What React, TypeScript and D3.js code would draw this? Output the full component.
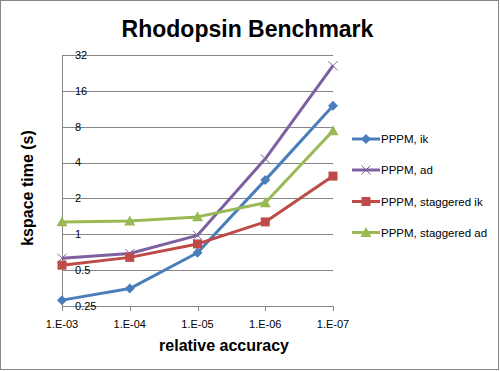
import React from 'react'
import * as d3 from 'd3'

const categories = ['1.E-03', '1.E-04', '1.E-05', '1.E-06', '1.E-07']
const yTicks = [0.25, 0.5, 1, 2, 4, 8, 16, 32]

const ikValues = [0.28, 0.35, 0.7, 2.85, 12]
const adValues = [0.63, 0.69, 0.98, 4.3, 26]
const staggeredIkValues = [0.55, 0.64, 0.83, 1.27, 3.08]
const staggeredAdValues = [1.27, 1.29, 1.4, 1.84, 7.4]

const seriesNames = ['PPPM, ik', 'PPPM, ad', 'PPPM, staggered ik', 'PPPM, staggered ad']
const seriesColors = ['#4A7EBB', '#7D60A0', '#BE4B48', '#98B954']
const seriesMarkers = ['diamond', 'cross', 'square', 'triangle']

const FONT = 'Arial, "Liberation Sans", sans-serif'
const GRID = '#868686'

const W = 500
const H = 371
const plot = { left: 62, right: 333, top: 55, bottom: 306 }

function Marker({ kind, x, y, color }: { kind: string; x: number; y: number; color: string }) {
  if (kind === 'diamond') {
    const s = 5
    return <path d={`M${x},${y - s}L${x + s},${y}L${x},${y + s}L${x - s},${y}Z`} fill={color} />
  }
  if (kind === 'square') {
    const s = 4.5
    return <rect x={x - s} y={y - s} width={s * 2} height={s * 2} fill={color} />
  }
  if (kind === 'triangle') {
    const s = 5.5
    return <path d={`M${x},${y - s}L${x + s},${y + s * 0.8}L${x - s},${y + s * 0.8}Z`} fill={color} />
  }
  const s = 4.5
  return (
    <path
      d={`M${x - s},${y - s}L${x + s},${y + s}M${x + s},${y - s}L${x - s},${y + s}`}
      stroke={color}
      strokeWidth={1}
      fill="none"
    />
  )
}

export default function App() {
  const allSeries = [ikValues, adValues, staggeredIkValues, staggeredAdValues]

  const x = d3.scalePoint<string>().domain(categories).range([plot.left, plot.right])
  const y = d3.scaleLog().base(2).domain([0.25, 32]).range([plot.bottom, plot.top])

  const line = d3
    .line<number>()
    .x((_, i) => x(categories[i]) as number)
    .y((d) => y(d))

  // draw order: Excel draws series 1..4, green on top
  const legendY = [139, 170, 201.5, 232.5]

  return (
    <svg
      width={W}
      height={H}
      style={{ position: 'absolute', left: 0, top: 0, background: '#fff' }}
      fontFamily={FONT}
    >
      <rect x={0.5} y={0.5} width={498} height={369} fill="#fff" stroke={GRID} />

      <text x={247.5} y={37} textAnchor="middle" fontSize={23} fontWeight="bold">
        Rhodopsin Benchmark
      </text>

      {/* gridlines */}
      {yTicks.map((t) => (
        <line
          key={t}
          x1={plot.left}
          x2={plot.right}
          y1={Math.round(y(t)) + 0.5}
          y2={Math.round(y(t)) + 0.5}
          stroke={GRID}
          strokeWidth={1}
        />
      ))}
      <line x1={plot.left + 0.5} x2={plot.left + 0.5} y1={plot.top} y2={plot.bottom} stroke={GRID} />
      {categories.map((c) => (
        <line
          key={c}
          x1={Math.round(x(c) as number) + 0.5}
          x2={Math.round(x(c) as number) + 0.5}
          y1={plot.bottom}
          y2={plot.bottom + 5}
          stroke={GRID}
        />
      ))}

      {/* y tick labels, drawn inside the plot */}
      {yTicks.map((t) => (
        <text key={t} x={75} y={y(t)} dy="0.35em" fontSize={11} fill="#000">
          {t}
        </text>
      ))}

      {categories.map((c) => (
        <text key={c} x={x(c)} y={328} textAnchor="middle" fontSize={11} fill="#000">
          {c}
        </text>
      ))}

      <text x={224} y={351} textAnchor="middle" fontSize={16} fontWeight="bold">
        relative accuracy
      </text>
      <text
        transform="translate(33,188) rotate(-90)"
        textAnchor="middle"
        fontSize={16}
        fontWeight="bold"
      >
        kspace time (s)
      </text>

      {allSeries.map((vals, si) => (
        <g key={si}>
          <path d={line(vals) || ''} fill="none" stroke={seriesColors[si]} strokeWidth={3} strokeLinejoin="round" />
          {vals.map((v, i) => (
            <Marker key={i} kind={seriesMarkers[si]} x={x(categories[i]) as number} y={y(v)} color={seriesColors[si]} />
          ))}
        </g>
      ))}

      {seriesNames.map((name, si) => (
        <g key={name}>
          <line x1={352} x2={380} y1={legendY[si]} y2={legendY[si]} stroke={seriesColors[si]} strokeWidth={3} />
          <Marker kind={seriesMarkers[si]} x={366} y={legendY[si]} color={seriesColors[si]} />
          <text x={381} y={legendY[si]} dy="0.35em" fontSize={11.5} fill="#000">
            {name}
          </text>
        </g>
      ))}
    </svg>
  )
}
